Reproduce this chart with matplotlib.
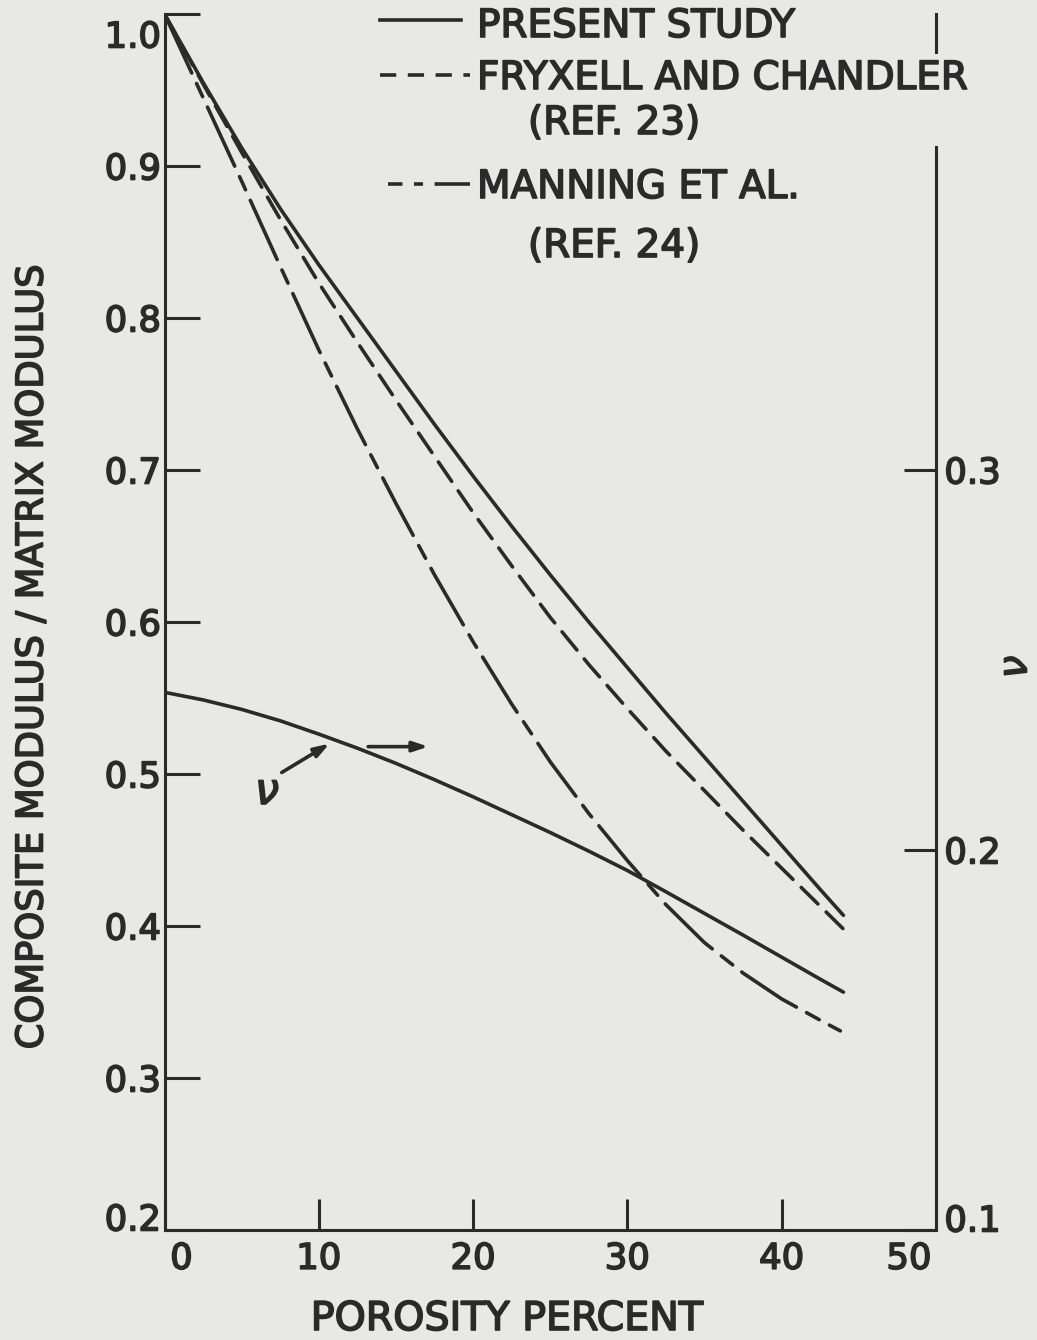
import matplotlib
matplotlib.use("Agg")
import matplotlib.pyplot as plt
from matplotlib.lines import Line2D
from matplotlib.transforms import ScaledTranslation
import matplotlib.patheffects as pe

plt.rcParams['font.family'] = ['DejaVu Sans']

# ---------------- data ----------------
porosity = [0, 2.5, 5, 7.5, 10, 12.5, 15, 17.5, 20, 22.5, 25, 27.5, 30,
            32.5, 35, 37.5, 40, 42.5, 44]

present_study = [1.0, 0.955, 0.912, 0.872, 0.835, 0.800, 0.765, 0.730, 0.696,
                 0.663, 0.631, 0.600, 0.570, 0.540, 0.511, 0.482, 0.453, 0.424, 0.407]

porosity_fryxell = [0, 2.5, 5, 7.5, 10, 12.5, 15, 17.5, 20, 22.5, 25, 27.5, 30,
                    32.5, 35, 37.5, 40, 42.5, 44.3]
fryxell_chandler = [1.0, 0.954, 0.909, 0.865, 0.823, 0.784, 0.746, 0.709, 0.672,
                    0.637, 0.603, 0.572, 0.543, 0.515, 0.489, 0.463, 0.438, 0.413, 0.395]

porosity_manning = [0, 2.5, 5, 7.5, 10, 12.5, 15, 17.5, 20, 22.5, 25, 27.5, 30,
                    32.5, 35, 37.5, 40, 42.5, 43.8]
manning = [1.0, 0.945, 0.890, 0.834, 0.779, 0.727, 0.678, 0.631, 0.587,
           0.546, 0.508, 0.474, 0.443, 0.414, 0.389, 0.369, 0.352, 0.338, 0.331]

poisson_nu = [0.2415, 0.2395, 0.2370, 0.2340, 0.2305, 0.2268, 0.2228, 0.2185, 0.2140,
              0.2093, 0.2046, 0.1997, 0.1946, 0.1890, 0.1833, 0.1776, 0.1718, 0.1660, 0.1626]

x_ticks = [0, 10, 20, 30, 40, 50]
x_tick_labels = ["0", "10", "20", "30", "40", "50"]
y_ticks = [0.2, 0.3, 0.4, 0.5, 0.6, 0.7, 0.8, 0.9, 1.0]
y_tick_labels = ["0.2", "0.3", "0.4", "0.5", "0.6", "0.7", "0.8", "0.9", "1.0"]
nu_ticks = [0.1, 0.2, 0.3]
nu_tick_labels = ["0.1", "0.2", "0.3"]

legend_labels = ["PRESENT STUDY", "FRYXELL AND CHANDLER", "MANNING ET AL."]
legend_refs = ["(REF. 23)", "(REF. 24)"]
x_label = "POROSITY PERCENT"
y_label = "COMPOSITE MODULUS / MATRIX MODULUS"
nu_label = "ν"

# annotation arrows (data coords on left axis)
nu_arrow = [(7.6, 0.501), (10.7, 0.520)]
right_arrow = [(13.2, 0.518), (17.1, 0.518)]

# ---------------- style ----------------
BG = "#e8e8e6"
INK = "#2a2a2a"
W, H = 1037, 1340
LW = 2.6
DASH = (0, (6.5, 3.2))
DASHDOT = (0, (18, 3.2, 4, 3.2))

def fx(px):
    return px / W

def fy(py):
    return 1 - py / H

fig = plt.figure(figsize=(W / 100, H / 100), dpi=100)
fig.patch.set_facecolor(BG)

ax_left, ax_right, ax_top, ax_bot = 164.5, 936.0, 14.0, 1230.0
ax = fig.add_axes([fx(ax_left), fy(ax_bot), (ax_right - ax_left) / W, (ax_bot - ax_top) / H])
ax.set_facecolor("none")
ax.set_xlim(0, 50)
ax.set_ylim(0.2, 1.0)

ax2 = ax.twinx()
ax2.set_facecolor("none")
ax2.set_ylim(0.1, 0.42)

thick = [pe.withStroke(linewidth=1.2, foreground=INK)]

# curves
ax.plot(porosity, present_study, color=INK, lw=LW, solid_capstyle="round",
        solid_joinstyle="round")
ax.plot(porosity_fryxell, fryxell_chandler, color=INK, lw=LW, linestyle=DASH,
        dash_capstyle="round")
ax.plot(porosity_manning, manning, color=INK, lw=LW, linestyle=DASHDOT,
        dash_capstyle="round")
ax2.plot(porosity, poisson_nu, color=INK, lw=LW, solid_capstyle="round",
         solid_joinstyle="round")

# spines
for s in ["top", "right"]:
    ax.spines[s].set_visible(False)
for s in ["top", "left", "bottom"]:
    ax2.spines[s].set_visible(False)
for s in ["left", "bottom"]:
    ax.spines[s].set_linewidth(2.2)
    ax.spines[s].set_color(INK)
ax2.spines["right"].set_linewidth(2.2)
ax2.spines["right"].set_color(INK)
ax2.spines["right"].set_bounds(0.1, 0.385)
ax2.axvline(50, ymin=0.9597, ymax=1.0, color=INK, lw=2.2, clip_on=False)

# ticks
ax.set_xticks(x_ticks)
ax.set_xticklabels(x_tick_labels)
ax.set_yticks(y_ticks)
ax.set_yticklabels(y_tick_labels)
ax2.set_yticks(nu_ticks)
ax2.set_yticklabels(nu_tick_labels)

ax.tick_params(axis="x", direction="in", length=22, width=2.2, color=INK, pad=8.5,
               labelsize=25.5, labelcolor=INK, top=False)
ax.tick_params(axis="y", direction="in", length=25, width=2.2, color=INK, pad=2.5,
               labelsize=25.5, labelcolor=INK, right=False)
ax2.tick_params(axis="y", direction="in", length=23, width=2.2, color=INK, pad=6,
                labelsize=25.5, labelcolor=INK, left=False)

for lab in ax.get_xticklabels() + ax.get_yticklabels() + ax2.get_yticklabels():
    lab.set_path_effects(thick)

def shift(label, dx, dy):
    label.set_transform(label.get_transform() +
                        ScaledTranslation(dx / 100, -dy / 100, fig.dpi_scale_trans))

xl = ax.get_xticklabels()
shift(xl[0], 17, 0)
shift(xl[-1], -27, 0)
yl = ax.get_yticklabels()
shift(yl[0], 0, -13)
shift(yl[-1], 0, 20)
rl = ax2.get_yticklabels()
shift(rl[0], 0, -12)

# axis labels
fig.text(fx(507), fy(1319), x_label, ha="center", va="center", fontsize=28.5,
         color=INK, path_effects=thick)
fig.text(fx(32), fy(657), y_label, ha="center", va="center", rotation=90,
         fontsize=26.5, color=INK, path_effects=thick)
fig.text(fx(1015), fy(667), nu_label, ha="center", va="center", rotation=90,
         fontsize=29, color=INK, style="italic", path_effects=thick)

# nu annotation
arrow_kw = dict(arrowstyle="-|>,head_length=0.9,head_width=0.3",
                color=INK, lw=2.6, shrinkA=0, shrinkB=0)
ax.annotate("", xy=nu_arrow[1], xytext=nu_arrow[0], arrowprops=arrow_kw)
ax.annotate("", xy=right_arrow[1], xytext=right_arrow[0], arrowprops=arrow_kw)
fig.text(fx(267), fy(792), "ν", ha="center", va="center", fontsize=31,
         style="italic", color=INK, path_effects=thick)

# legend (drawn manually)
fig.add_artist(Line2D([fx(380), fx(461)], [fy(20), fy(20)], color=INK, lw=LW))
fig.add_artist(Line2D([fx(380), fx(470)], [fy(75), fy(75)], color=INK, lw=LW,
                      linestyle=(0, (4.5, 3.2))))
fig.add_artist(Line2D([fx(388), fx(470)], [fy(184), fy(184)], color=INK, lw=LW,
                      linestyle=(0, (4, 3.2, 2.5, 3.2, 12, 2))))

fig.text(fx(477), fy(37), legend_labels[0], ha="left", va="baseline", fontsize=28,
         color=INK, path_effects=thick)
fig.text(fx(477), fy(89), legend_labels[1], ha="left", va="baseline", fontsize=28,
         color=INK, path_effects=thick,
         bbox=dict(boxstyle="square,pad=0.12", fc=BG, ec="none"), zorder=5)
fig.text(fx(528), fy(134), legend_refs[0], ha="left", va="baseline", fontsize=28,
         color=INK, path_effects=thick)
fig.text(fx(477), fy(198), legend_labels[2], ha="left", va="baseline", fontsize=28,
         color=INK, path_effects=thick)
fig.text(fx(528), fy(257), legend_refs[1], ha="left", va="baseline", fontsize=28,
         color=INK, path_effects=thick)

fig.savefig("out.png", dpi=100, facecolor=BG)
